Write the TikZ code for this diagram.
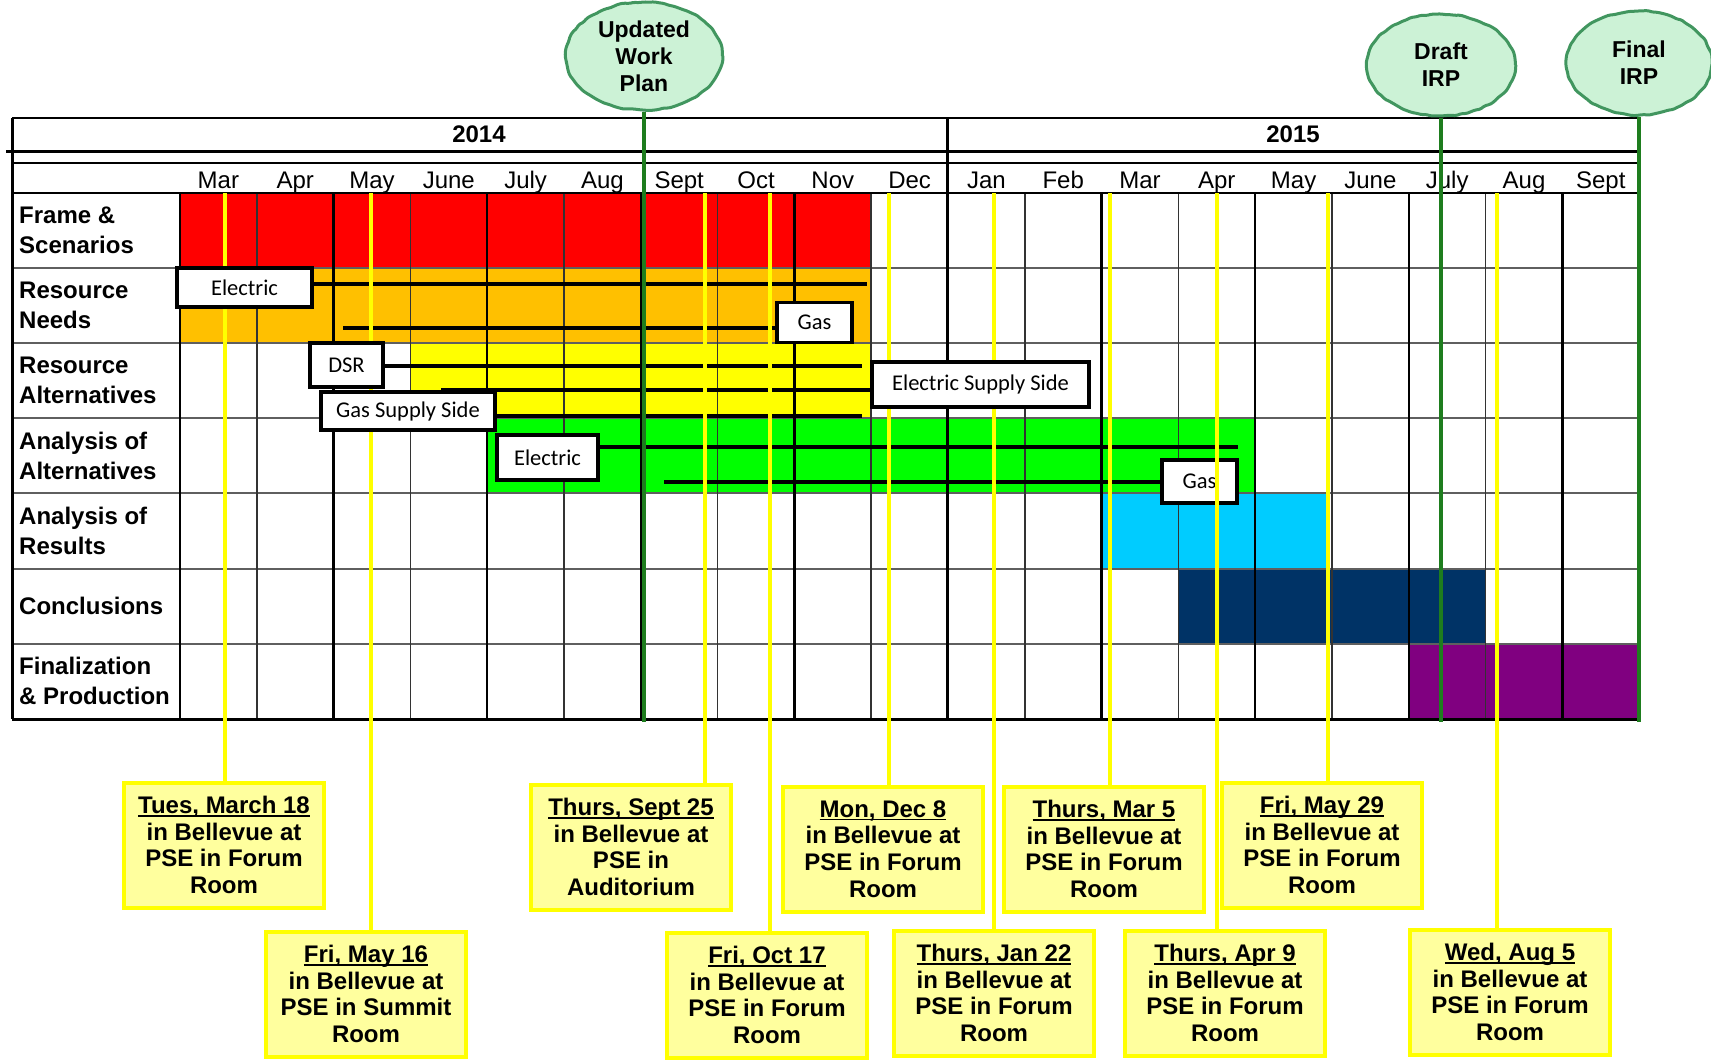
\documentclass[tikz,border=0pt]{standalone}
\usepackage{fontspec}
\setmainfont{Liberation Sans}
\newfontfamily\calfont{Carlito}
\usepackage{tikz}
\usetikzlibrary{positioning,calc,shapes.geometric,decorations.pathmorphing}
\definecolor{irpred}{RGB}{255,0,0}
\definecolor{irporange}{RGB}{255,192,0}
\definecolor{irpyellow}{RGB}{255,255,0}
\definecolor{irpgreen}{RGB}{0,255,0}
\definecolor{irpcyan}{RGB}{0,204,255}
\definecolor{irpnavy}{RGB}{0,51,102}
\definecolor{irppurple}{RGB}{128,0,128}
\definecolor{milegreen}{RGB}{30,125,30}
\definecolor{mintfill}{RGB}{204,242,214}
\definecolor{mintdraw}{RGB}{65,150,95}
\definecolor{notefill}{RGB}{255,255,158}
\definecolor{gridgray}{RGB}{95,95,95}
\newcommand{\uldate}[1]{\leavevmode\setbox0=\hbox{#1}\rlap{\rule[-3.2pt]{\wd0}{1.8pt}}\box0}
\pgfdeclarelayer{bars}
\pgfdeclarelayer{blacklines}
\pgfdeclarelayer{meetlines}
\pgfsetlayers{bars,blacklines,meetlines,main}

\begin{document}
\begin{tikzpicture}[
  x=1pt, y=-1pt,
  rowlab/.style={anchor=west, align=left, inner sep=0pt, font=\bfseries\fontsize{24}{30}\selectfont},
  monthlab/.style={anchor=base, inner sep=0pt, font=\fontsize{24}{28}\selectfont},
  yearlab/.style={anchor=base, inner sep=0pt, font=\bfseries\fontsize{24}{28}\selectfont},
  tagbox/.style={draw=black, line width=3.5pt, fill=white, inner sep=0pt, font=\calfont\fontsize{22.5}{27}\selectfont},
  barline/.style={line width=4pt, black},
  meetline/.style={line width=4.5pt, irpyellow},
  meeting/.style={draw=irpyellow, line width=4pt, fill=notefill, align=center, inner sep=0pt,
    minimum width=200pt, minimum height=125pt, font=\bfseries\fontsize{24}{26.7}\selectfont},
  milestone/.style={ellipse, draw=mintdraw, line width=3pt, fill=mintfill, align=center, inner sep=0pt,
    font=\bfseries\fontsize{23}{27}\selectfont, decorate,
    decoration={random steps, segment length=5pt, amplitude=0.7pt}, rounded corners=1.5pt},
  mileline/.style={line width=4pt, milegreen},
  thickgrid/.style={line width=2.5pt, black},
  thingrid/.style={line width=1.5pt, black!80},
  rowline/.style={line width=2pt, gridgray}
]
\pgfmathsetseed{7}
\useasboundingbox (0,0) rectangle (1711,1061);

% activity bars and table grid
\begin{pgfonlayer}{bars}
  \fill[irpred]    (180,193) rectangle (871,268);
  \fill[irporange] (180,268) rectangle (871,344);
  \fill[irpyellow] (410,344) rectangle (871,419);
  \fill[irpgreen]  (487,419) rectangle (1255,494);
  \fill[irpcyan]   (1101,494) rectangle (1328,569);
  \fill[irpnavy]   (1178,569) rectangle (1485,644);
  \fill[irppurple] (1408,644) rectangle (1639,719);

  \foreach \r in {1,...,6}
    \draw[rowline] (12,193+75.1*\r) -- (1639,193+75.1*\r);
  \foreach \k in {1,3,...,17}
    \draw[thingrid] (180+76.8*\k,193) -- (180+76.8*\k,719);
  \foreach \k in {2,4,...,18}
    \draw[thickgrid] (180+76.8*\k,193) -- (180+76.8*\k,719);

  \draw[line width=2.5pt] (12,118) -- (1639,118);
  \draw[line width=3pt] (6,151) -- (1639,151);
  \draw[line width=2pt] (12,163) -- (1639,163);
  \draw[line width=2pt] (12,193) -- (1639,193);
  \draw[line width=3pt] (12,719) -- (1639,719);
  \draw[line width=3pt] (12,118) -- (12,719);
  \draw[thickgrid] (180,193) -- (180,719);
  \draw[line width=3pt] (947,118) -- (947,719);
  \draw[line width=2.5pt] (1639,118) -- (1639,719);
\end{pgfonlayer}

% headings
\node[yearlab] (y2014) at (479,142.5) {2014};
\node[yearlab] (y2015) at (1293,142.5) {2015};
\foreach \m [count=\k from 0] in {Mar,Apr,May,June,July,Aug,Sept,Oct,Nov,Dec,Jan,Feb,Mar,Apr,May,June,July,Aug,Sept}
  \node[monthlab] (mon\k) at (218.4+76.8*\k,188) {\m};
\foreach \r/\lab in {0/{Frame \&\\Scenarios}, 1/{Resource\\Needs}, 2/{Resource\\Alternatives},
    3/{Analysis of\\Alternatives}, 4/{Analysis of\\Results}, 5/{Conclusions}, 6/{Finalization\\\& Production}}
  \node[rowlab] (row\r) at (19,230.6+75.1*\r) {\lab};

% labels on the bars
\node[tagbox, minimum width=135pt, minimum height=39pt] (rnElec) at (244.5,287.5) {Electric};
\node[tagbox, minimum width=75pt, minimum height=40pt] (rnGas) at (814.5,322.5) {Gas};
\node[tagbox, minimum width=73pt, minimum height=44pt] (dsr) at (346.5,365) {DSR};
\node[tagbox, minimum width=174pt, minimum height=38pt] (gasSupply) at (408,411) {Gas Supply Side};
\node[tagbox, minimum width=217pt, minimum height=45pt] (elecSupply) at (980.5,384.5) {Electric Supply Side};
\node[tagbox, minimum width=101pt, minimum height=45pt] (aoaElec) at (547.5,457.5) {Electric};

\coordinate (rnElecEnd) at (867,284);
\coordinate (rnGasStart) at (343,328);
\coordinate (dsrEnd) at (862,366);
\coordinate (esStart) at (441,390);
\coordinate (gsEnd) at (862,416);
\coordinate (aeEnd) at (1238,447);
\coordinate (agStart) at (664,482);

\begin{pgfonlayer}{blacklines}
  \node[tagbox, minimum width=75pt, minimum height=43pt] (aoaGas) at (1199.5,481.5) {Gas};
  \draw[barline] (rnElec.east |- rnElecEnd) -- (rnElecEnd);
  \draw[barline] (rnGasStart) -- (rnGasStart -| rnGas.west);
  \draw[barline] (dsr.east |- dsrEnd) -- (dsrEnd);
  \draw[barline] (esStart) -- (esStart -| elecSupply.west);
  \draw[barline] (gasSupply.east |- gsEnd) -- (gsEnd);
  \draw[barline] (aoaElec.east |- aeEnd) -- (aeEnd);
  \draw[barline] (agStart) -- (agStart -| aoaGas.west);
\end{pgfonlayer}

% meetings
\foreach \n/\cx/\cy/\lx/\mdate/\room in {
    1/224/845/225/{Tues, March 18}/{PSE in Forum\\Room},
    2/366/994/371/{Fri, May 16}/{PSE in Summit\\Room},
    3/631/847/705/{Thurs, Sept 25}/{PSE in\\Auditorium},
    4/767/995/770/{Fri, Oct 17}/{PSE in Forum\\Room},
    5/883/849/889/{Mon, Dec 8}/{PSE in Forum\\Room},
    6/994/993/994/{Thurs, Jan 22}/{PSE in Forum\\Room},
    7/1104/849/1110/{Thurs, Mar 5}/{PSE in Forum\\Room},
    8/1225/993/1217/{Thurs, Apr 9}/{PSE in Forum\\Room},
    9/1322/845/1328/{Fri, May 29}/{PSE in Forum\\Room},
    10/1510/992/1497/{Wed, Aug 5}/{PSE in Forum\\Room}} {
  \node[meeting] (mtg\n) at (\cx,\cy) {\uldate{\mdate}\\in Bellevue at\\\room};
  \coordinate (mtop\n) at (\lx,193);
  \begin{pgfonlayer}{meetlines}
    \draw[meetline] (mtop\n) -- (mtop\n |- mtg\n.north);
  \end{pgfonlayer}
}

% milestones
\coordinate (gridfoot) at (0,722);
\node[milestone, minimum width=157pt, minimum height=108pt] (wp) at (644,56) {Updated\\Work\\Plan};
\node[milestone, minimum width=149pt, minimum height=102pt] (draft) at (1441,65) {Draft\\IRP};
\node[milestone, minimum width=146pt, minimum height=104pt] (final) at (1639,63) {Final\\IRP};
\draw[mileline] (wp.south) -- (wp.south |- gridfoot);
\draw[mileline] (draft.south) -- (draft.south |- gridfoot);
\draw[mileline] (final.south) -- (final.south |- gridfoot);
\end{tikzpicture}
\end{document}
